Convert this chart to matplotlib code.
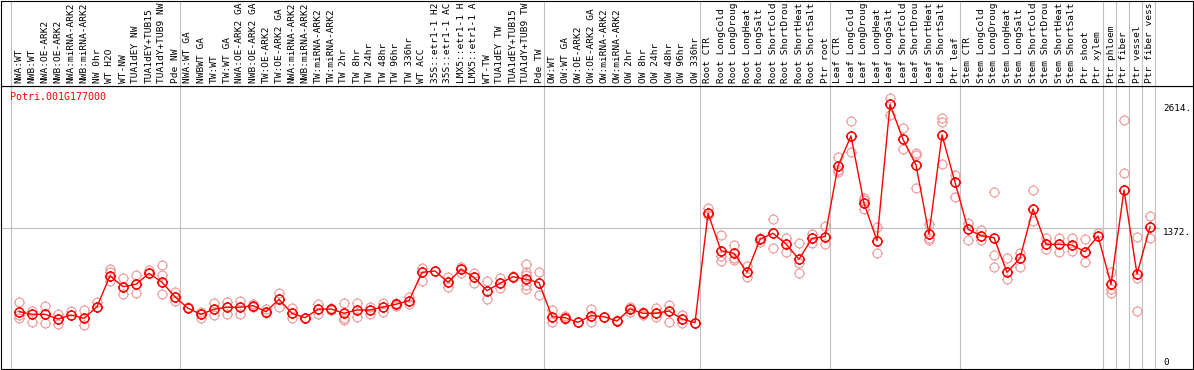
import numpy as np
import matplotlib
matplotlib.use('Agg')
import matplotlib.pyplot as plt
import matplotlib.transforms as mtransforms
from matplotlib.path import Path

gene = 'Potri.001G177000'

labels = ['NWA:WT', 'NWB:WT', 'NWA:OE-ARK2', 'NWB:OE-ARK2', 'NWA:miRNA-ARK2', 'NWB:miRNA-ARK2',
          'NW 0hr', 'WT H2O', 'WT-NW', 'TUA1dEY NW', 'TUA1dEY+TUB15', 'TUA1dY+TUB9 NW', 'Pde NW',
          'NWA:WT GA', 'NWBWT GA', 'TW:WT', 'TW:WT GA', 'NWA:OE-ARK2 GA', 'NWB:OE-ARK2 GA',
          'TW:OE-ARK2', 'TW:OE-ARK2 GA', 'NWA:miRNA-ARK2', 'NWB:miRNA-ARK2', 'TW:miRNA-ARK2',
          'TW:miRNA-ARK2', 'TW 2hr', 'TW 8hr', 'TW 24hr', 'TW 48hr', 'TW 96hr', 'TW 336hr',
          'WT ACC', '35S::etr1-1 H2', '35S::etr1-1 AC', 'LMX5::etr1-1 H', 'LMX5::etr1-1 A',
          'WT-TW', 'TUA1dEY TW', 'TUA1dEY+TUB15', 'TUA1dY+TUB9 TW', 'Pde TW',
          'OW:WT', 'OW:WT GA', 'OW:OE-ARK2', 'OW:OE-ARK2 GA', 'OW:miRNA-ARK2', 'OW:miRNA-ARK2',
          'OW 2hr', 'OW 8hr', 'OW 24hr', 'OW 48hr', 'OW 96hr', 'OW 336hr',
          'Root CTR', 'Root LongCold', 'Root LongDroug', 'Root LongHeat', 'Root LongSalt',
          'Root ShortCold', 'Root ShortDrou', 'Root ShortHeat', 'Root ShortSalt', 'Ptr root',
          'Leaf CTR', 'Leaf LongCold', 'Leaf LongDroug', 'Leaf LongHeat', 'Leaf LongSalt',
          'Leaf ShortCold', 'Leaf ShortDrou', 'Leaf ShortHeat', 'Leaf ShortSalt', 'Ptr leaf',
          'Stem CTR', 'Stem LongCold', 'Stem LongDroug', 'Stem LongHeat', 'Stem LongSalt',
          'Stem ShortCold', 'Stem ShortDrou', 'Stem ShortHeat', 'Stem ShortSalt', 'Ptr shoot',
          'Ptr xylem', 'Ptr phloem', 'Ptr fiber', 'Ptr vessel', 'Ptr fiber vess']

means = [536, 510, 510, 463, 503, 470, 586, 894, 785, 809, 918, 829, 685,
         570, 510, 560, 580, 580, 596, 536, 659, 520, 476, 560, 563, 520, 553, 553, 583,
         610, 645, 928, 941, 829, 958, 878, 745, 819, 884, 859, 825,
         486, 476, 430, 496, 486, 443, 563, 520, 520, 543, 463, 426,
         1516, 1143, 1118, 928, 1257, 1317, 1210, 1058, 1267, 1283,
         1987, 2286, 1616, 1243, 2600, 2253, 1997, 1310, 2296, 1825,
         1357, 1293, 1273, 928, 1068, 1559, 1207, 1207, 1200, 1133, 1290,
         809, 1748, 911, 1382]

reps = [[629, 503, 470], [546, 436], [593, 420], [510, 413], [546], [553, 403], [635, 580],
        [958, 934, 842], [869, 709], [901, 719], [951, 924], [1001, 901, 712], [735, 642],
        [583], [536, 470], [620, 503], [635, 513], [645, 510], [613, 586], [560, 526],
        [725, 586], [570, 470], [476], [613, 513], [570, 553], [620, 470, 453], [620, 486],
        [580, 513], [620, 536], [625, 593], [685, 613], [968, 845], [941], [884, 785],
        [984, 918], [924, 819], [842, 662], [874, 769], [891], [1011, 934, 901, 802, 762],
        [928, 699],
        [553, 436], [496, 463], [430], [563, 436], [486], [453], [586, 536], [536, 503],
        [570, 486], [603, 430], [503, 420], [420],
        [1566, 1499], [1300, 1094, 1044], [1200, 1068, 1051], [991, 878], [1267, 1233],
        [1459, 1167], [1273, 1133], [1217, 1018, 918], [1310, 1217], [1389, 1210],
        [2074, 1947, 1930], [2438, 2123], [1665, 1648, 1556], [1382, 1118], [2661, 2495],
        [2363, 2153], [2120, 2097, 1765], [1409, 1267, 1250], [2462, 2422, 2003], [1897, 1675],
        [1416, 1250], [1350, 1250], [1725, 1101, 978], [1068, 859], [1118, 984], [1748, 1439],
        [1273, 1160], [1273, 1133], [1273, 1143], [1260, 1034], [1323],
        [934, 759, 719], [2445, 1914], [1277, 869, 543], [1492, 1267]]

group_edges = [-0.5, 12.5, 40.5, 52.5, 62.5, 72.5, 83.5, 84.5, 85.5, 86.5, 87.5]
ytick_vals = [2614, 1372, 0]
ytick_text = ['2614.', '1372.', '0']

W, H = 1194, 370
top_px = 85.7
mono = 'DejaVu Sans Mono'
grey = '#c0c0c0'

fig = plt.figure(figsize=(W / 100, H / 100), dpi=100)
ax = fig.add_axes([1 / W, 1 / H, 1192 / W, (369 - top_px) / H])
axl = fig.add_axes([1 / W, (H - top_px) / H, 1192 / W, (top_px - 0.5) / H], sharex=ax)

xlim = ((1 - 19) / 13, (1193 - 19) / 13)
ax.set_xlim(xlim)
ax.set_ylim(-35, 2787)
axl.set_ylim(0, 1)

for a in (ax, axl):
    a.set_xticks([])
    a.set_yticks([])
    for s in a.spines.values():
        s.set_color('black')
        s.set_linewidth(0.8)
    for e in group_edges:
        a.axvline(e - 0.1, color=grey, lw=0.8, zorder=1)

ax.hlines(ytick_vals[1], xlim[0], 87.8, color=grey, lw=0.8, zorder=1)

# circle marker with small ticks
circ = Path.unit_circle()
tk = 1.25
ticks = Path([(0, 1), (0, tk), (0, -1), (0, -tk), (1, 0), (tk, 0), (-1, 0), (-tk, 0)],
             [Path.MOVETO, Path.LINETO] * 4)
marker = Path.make_compound_path(circ, ticks)

x = np.arange(len(labels))
rx = np.concatenate([[i] * len(r) for i, r in enumerate(reps)])
ry = np.concatenate(reps)
ax.plot(rx, ry, linestyle='none', marker=marker, markersize=8.0, markerfacecolor='none',
        markeredgecolor='#ee9999', markeredgewidth=0.8, zorder=2)
ax.plot(x, means, color='red', lw=1.0, marker=marker, markersize=8.0, markerfacecolor='none',
        markeredgecolor='red', markeredgewidth=1.1, zorder=3)

lab_tr = mtransforms.blended_transform_factory(axl.transData, axl.transAxes)
for i, lab in enumerate(labels):
    axl.text(i, (top_px - 83) / (top_px - 0.5), lab, rotation=90, ha='center', va='bottom',
             fontsize=6.8, family=mono, transform=lab_tr, clip_on=True)

fig.text(10 / W, 1 - 97 / H, gene, color='red', fontsize=7.2, family=mono, ha='left', va='center')

off_tr = mtransforms.offset_copy(ax.transData, fig=fig, y=-7.5, units='dots')
for v, t in zip(ytick_vals, ytick_text):
    tr = off_tr if v > 0 else ax.transData
    ax.text(88.0, v, t, fontsize=6.7, family=mono, ha='left', va='baseline', transform=tr)

fig.savefig('out.png', dpi=100)
